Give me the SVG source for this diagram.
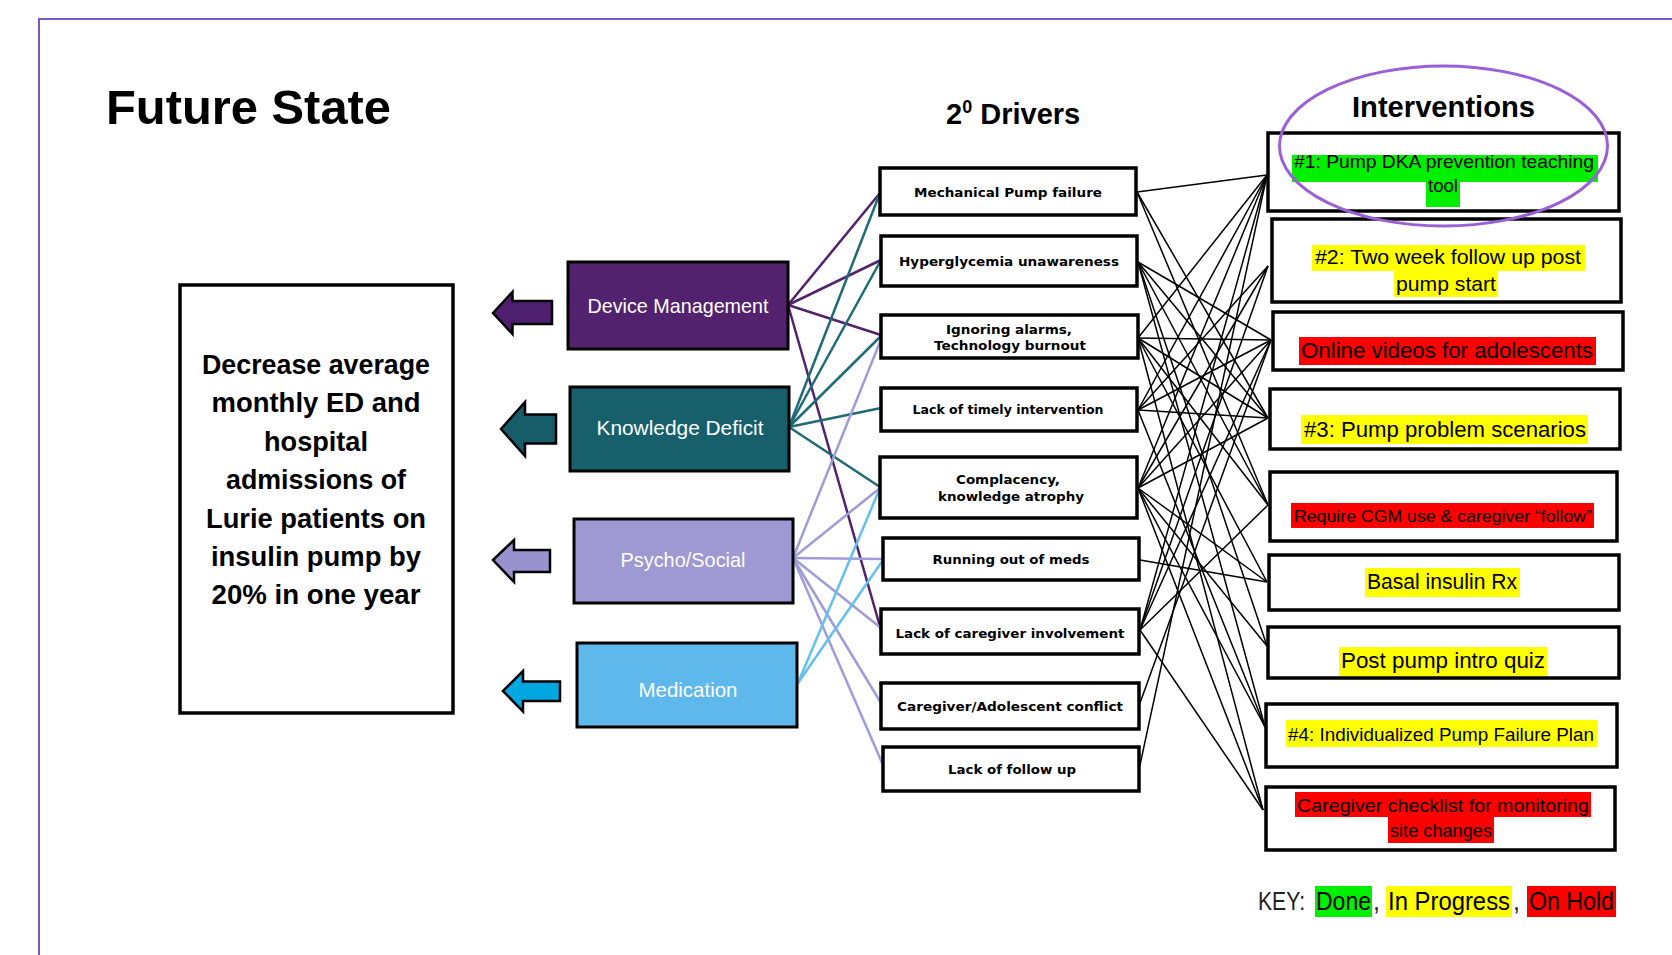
<svg xmlns="http://www.w3.org/2000/svg" width="1672" height="955" viewBox="0 0 1672 955">
<defs>
<style>
.frame{fill:none;stroke:#7e57c2;stroke-width:2}
.box{fill:#fff;stroke:#000;stroke-width:3.5}
.pbox{stroke:#000;stroke-width:3}
.arr{stroke:#000;stroke-width:2.5;stroke-linejoin:miter}
.title{font-family:"Liberation Sans",Arial,sans-serif;font-weight:bold;fill:#000}
.goal{font-family:"Liberation Sans",Arial,sans-serif;font-weight:bold;font-size:28px;fill:#000;text-anchor:middle}
.ptxt{font-family:"Liberation Sans",Arial,sans-serif;font-size:21px;fill:#fff;text-anchor:middle}
.stxt{font-family:"DejaVu Sans","Liberation Sans",sans-serif;font-weight:bold;font-size:13px;fill:#000;text-anchor:middle}
.itxt{font-family:"Liberation Sans",Arial,sans-serif;fill:#000;text-anchor:middle}
.blk line{stroke:#000;stroke-width:1.5}
.cp{stroke:#52226e;stroke-width:2.5}
.ct{stroke:#1f6b76;stroke-width:2.5}
.cl{stroke:#a09bdb;stroke-width:2.5}
.cb{stroke:#63c0ef;stroke-width:2.5}
.hg{fill:#00f000}
.hy{fill:#ffff00}
.hr{fill:#ff0000}
</style>
</defs>
<rect x="0" y="0" width="1672" height="955" fill="#fff"/>
<rect class="frame" x="39" y="19" width="1700" height="1000"/>

<text class="title" x="106" y="124" font-size="49" textLength="285" lengthAdjust="spacingAndGlyphs">Future State</text>
<text class="title" x="946" y="124" font-size="29">2<tspan font-size="18" dy="-11">0</tspan><tspan dy="11"> Drivers</tspan></text>
<text class="title" x="1352" y="117" font-size="29" textLength="183" lengthAdjust="spacingAndGlyphs">Interventions</text>

<g id="connectors">
  <g id="colored">
    <line class="cp" x1="788" y1="305" x2="880" y2="193"/>
    <line class="cp" x1="788" y1="305" x2="881" y2="260"/>
    <line class="cp" x1="788" y1="305" x2="881" y2="335"/>
    <line class="cp" x1="788" y1="305" x2="881" y2="630"/>
    <line class="ct" x1="789" y1="427" x2="880" y2="193"/>
    <line class="ct" x1="789" y1="427" x2="881" y2="260"/>
    <line class="ct" x1="789" y1="427" x2="881" y2="336"/>
    <line class="ct" x1="789" y1="427" x2="881" y2="408"/>
    <line class="ct" x1="789" y1="427" x2="880" y2="487"/>
    <line class="cl" x1="793" y1="558" x2="882" y2="337"/>
    <line class="cl" x1="793" y1="558" x2="880" y2="488"/>
    <line class="cl" x1="793" y1="558" x2="883" y2="559"/>
    <line class="cl" x1="793" y1="558" x2="881" y2="628"/>
    <line class="cl" x1="793" y1="558" x2="881" y2="703"/>
    <line class="cl" x1="793" y1="558" x2="883" y2="765"/>
    <line class="cb" x1="798" y1="683" x2="880" y2="488"/>
    <line class="cb" x1="798" y1="683" x2="883" y2="560"/>
  </g>
  <g id="black" class="blk">
    <line x1="1137" y1="192" x2="1267" y2="175"/>
    <line x1="1137" y1="192" x2="1268" y2="418"/>
    <line x1="1137" y1="192" x2="1268" y2="505"/>
    <line x1="1138" y1="262" x2="1271" y2="340"/>
    <line x1="1138" y1="262" x2="1268" y2="418"/>
    <line x1="1138" y1="262" x2="1268" y2="505"/>
    <line x1="1138" y1="262" x2="1267" y2="646"/>
    <line x1="1138" y1="262" x2="1265" y2="727"/>
    <line x1="1138" y1="338" x2="1271" y2="340"/>
    <line x1="1138" y1="338" x2="1268" y2="418"/>
    <line x1="1138" y1="338" x2="1268" y2="505"/>
    <line x1="1138" y1="338" x2="1267" y2="582"/>
    <line x1="1138" y1="338" x2="1263" y2="810"/>
    <line x1="1138" y1="338" x2="1267" y2="175"/>
    <line x1="1138" y1="410" x2="1267" y2="175"/>
    <line x1="1138" y1="410" x2="1268" y2="266"/>
    <line x1="1138" y1="410" x2="1271" y2="340"/>
    <line x1="1138" y1="410" x2="1268" y2="418"/>
    <line x1="1138" y1="410" x2="1265" y2="727"/>
    <line x1="1138" y1="488" x2="1267" y2="175"/>
    <line x1="1138" y1="488" x2="1268" y2="266"/>
    <line x1="1138" y1="488" x2="1271" y2="340"/>
    <line x1="1138" y1="488" x2="1268" y2="418"/>
    <line x1="1138" y1="488" x2="1267" y2="582"/>
    <line x1="1138" y1="488" x2="1267" y2="646"/>
    <line x1="1138" y1="488" x2="1265" y2="727"/>
    <line x1="1138" y1="488" x2="1263" y2="810"/>
    <line x1="1140" y1="560" x2="1267" y2="582"/>
    <line x1="1140" y1="630" x2="1267" y2="175"/>
    <line x1="1140" y1="630" x2="1268" y2="266"/>
    <line x1="1140" y1="630" x2="1271" y2="340"/>
    <line x1="1140" y1="630" x2="1268" y2="505"/>
    <line x1="1140" y1="630" x2="1263" y2="810"/>
    <line x1="1140" y1="703" x2="1271" y2="340"/>
    <line x1="1140" y1="765" x2="1267" y2="175"/>
  </g>
</g>

<g id="goal">
  <rect class="box" x="180" y="285" width="273" height="428"/>
  <text class="goal" x="316" y="374" textLength="228" lengthAdjust="spacingAndGlyphs">Decrease average</text>
  <text class="goal" x="316" y="412" textLength="209" lengthAdjust="spacingAndGlyphs">monthly ED and</text>
  <text class="goal" x="316" y="451" textLength="104" lengthAdjust="spacingAndGlyphs">hospital</text>
  <text class="goal" x="316" y="489" textLength="180" lengthAdjust="spacingAndGlyphs">admissions of</text>
  <text class="goal" x="316" y="528" textLength="220" lengthAdjust="spacingAndGlyphs">Lurie patients on</text>
  <text class="goal" x="316" y="566" textLength="210" lengthAdjust="spacingAndGlyphs">insulin pump by</text>
  <text class="goal" x="316" y="604" textLength="209" lengthAdjust="spacingAndGlyphs">20% in one year</text>
</g>

<g id="arrow-device"><polygon class="arr" fill="#4e1f6f" points="493,313 512.5,292 512.5,301 552,301 552,324 512.5,324 512.5,334"/></g>
<g id="arrow-knowledge"><polygon class="arr" fill="#175c69" points="501,429 525,402 525,414.5 556,414.5 556,443.5 525,443.5 525,456"/></g>
<g id="arrow-psycho"><polygon class="arr" fill="#9a92cf" points="493,560 514,540 514,550 550,550 550,572 514,572 514,582"/></g>
<g id="arrow-medication"><polygon class="arr" fill="#00a7e1" points="503,691 523,671 523,681.5 560,681.5 560,701 523,701 523,711.5"/></g>

<g id="device-management">
  <rect class="pbox" x="568" y="262" width="220" height="87" fill="#52226e"/>
  <text class="ptxt" x="678" y="313" textLength="181" lengthAdjust="spacingAndGlyphs">Device Management</text>
</g>
<g id="knowledge-deficit">
  <rect class="pbox" x="570" y="387" width="219" height="84" fill="#175f6b"/>
  <text class="ptxt" x="680" y="435" textLength="167" lengthAdjust="spacingAndGlyphs">Knowledge Deficit</text>
</g>
<g id="psycho-social">
  <rect class="pbox" x="574" y="519" width="219" height="84" fill="#9e98d3"/>
  <text class="ptxt" x="683" y="567" textLength="125" lengthAdjust="spacingAndGlyphs">Psycho/Social</text>
</g>
<g id="medication">
  <rect class="pbox" x="577" y="643" width="220" height="84" fill="#5eb8ec"/>
  <text class="ptxt" x="688" y="697" textLength="99" lengthAdjust="spacingAndGlyphs">Medication</text>
</g>

<g id="d-mechanical"><rect class="box" x="880" y="168" width="256" height="47"/>
  <text class="stxt" x="1008" y="197" textLength="188" lengthAdjust="spacingAndGlyphs">Mechanical Pump failure</text></g>
<g id="d-hyperglycemia"><rect class="box" x="881" y="236" width="256" height="50"/>
  <text class="stxt" x="1009" y="266" textLength="220" lengthAdjust="spacingAndGlyphs">Hyperglycemia unawareness</text></g>
<g id="d-ignoring"><rect class="box" x="881" y="315" width="257" height="43"/>
  <text class="stxt" x="1009" y="334" textLength="126" lengthAdjust="spacingAndGlyphs">Ignoring alarms,</text>
  <text class="stxt" x="1010" y="350" textLength="152" lengthAdjust="spacingAndGlyphs">Technology burnout</text></g>
<g id="d-timely"><rect class="box" x="881" y="388" width="256" height="43"/>
  <text class="stxt" x="1008" y="414" textLength="191" lengthAdjust="spacingAndGlyphs">Lack of timely intervention</text></g>
<g id="d-complacency"><rect class="box" x="880" y="457" width="257" height="61"/>
  <text class="stxt" x="1008" y="484" textLength="104" lengthAdjust="spacingAndGlyphs">Complacency,</text>
  <text class="stxt" x="1011" y="501" textLength="146" lengthAdjust="spacingAndGlyphs">knowledge atrophy</text></g>
<g id="d-meds"><rect class="box" x="883" y="538" width="256" height="42"/>
  <text class="stxt" x="1011" y="564" textLength="157" lengthAdjust="spacingAndGlyphs">Running out of meds</text></g>
<g id="d-caregiver"><rect class="box" x="881" y="609" width="258" height="45"/>
  <text class="stxt" x="1010" y="638" textLength="229" lengthAdjust="spacingAndGlyphs">Lack of caregiver involvement</text></g>
<g id="d-conflict"><rect class="box" x="881" y="683" width="258" height="46"/>
  <text class="stxt" x="1010" y="711" textLength="226" lengthAdjust="spacingAndGlyphs">Caregiver/Adolescent conflict</text></g>
<g id="d-followup"><rect class="box" x="883" y="747" width="256" height="44"/>
  <text class="stxt" x="1012" y="774" textLength="128" lengthAdjust="spacingAndGlyphs">Lack of follow up</text></g>

<g id="i1"><rect class="box" x="1268" y="133" width="351" height="78"/>
  <rect class="hg" x="1292" y="155" width="306" height="27"/>
  <rect class="hg" x="1426" y="181" width="34" height="26"/>
  <text class="itxt" x="1444" y="168" font-size="19" textLength="300" lengthAdjust="spacingAndGlyphs">#1: Pump DKA prevention teaching</text>
  <text class="itxt" x="1443" y="192" font-size="19" textLength="30" lengthAdjust="spacingAndGlyphs">tool</text></g>
<g id="i2"><rect class="box" x="1272" y="219" width="349" height="83"/>
  <rect class="hy" x="1312" y="245" width="273" height="26"/>
  <rect class="hy" x="1394" y="270" width="104" height="27"/>
  <text class="itxt" x="1448" y="264" font-size="21" textLength="266" lengthAdjust="spacingAndGlyphs">#2: Two week follow up post</text>
  <text class="itxt" x="1446" y="291" font-size="21" textLength="100" lengthAdjust="spacingAndGlyphs">pump start</text></g>
<g id="i3"><rect class="box" x="1273" y="312" width="350" height="58"/>
  <rect class="hr" x="1299" y="337" width="297" height="28"/>
  <text class="itxt" x="1447" y="358" font-size="22" textLength="292" lengthAdjust="spacingAndGlyphs">Online videos for adolescents</text></g>
<g id="i4"><rect class="box" x="1270" y="389" width="350" height="60"/>
  <rect class="hy" x="1301" y="415" width="287" height="29"/>
  <text class="itxt" x="1445" y="437" font-size="22" textLength="282" lengthAdjust="spacingAndGlyphs">#3: Pump problem scenarios</text></g>
<g id="i5"><rect class="box" x="1270" y="472" width="347" height="69"/>
  <rect class="hr" x="1291" y="503" width="303" height="25"/>
  <text class="itxt" x="1443" y="522" font-size="17" textLength="298" lengthAdjust="spacingAndGlyphs">Require CGM use &amp; caregiver “follow”</text></g>
<g id="i6"><rect class="box" x="1269" y="555" width="350" height="55"/>
  <rect class="hy" x="1365" y="568" width="155" height="29"/>
  <text class="itxt" x="1442" y="589" font-size="22" textLength="150" lengthAdjust="spacingAndGlyphs">Basal insulin Rx</text></g>
<g id="i7"><rect class="box" x="1268" y="627" width="351" height="51"/>
  <rect class="hy" x="1339" y="647" width="208" height="29"/>
  <text class="itxt" x="1443" y="668" font-size="22" textLength="204" lengthAdjust="spacingAndGlyphs">Post pump intro quiz</text></g>
<g id="i8"><rect class="box" x="1266" y="704" width="351" height="63"/>
  <rect class="hy" x="1286" y="720" width="311" height="27"/>
  <text class="itxt" x="1441" y="741" font-size="18" textLength="306" lengthAdjust="spacingAndGlyphs">#4: Individualized Pump Failure Plan</text></g>
<g id="i9"><rect class="box" x="1266" y="787" width="349" height="63"/>
  <rect class="hr" x="1295" y="792" width="296" height="25"/>
  <rect class="hr" x="1388" y="817" width="106" height="26"/>
  <text class="itxt" x="1443" y="812" font-size="18" textLength="292" lengthAdjust="spacingAndGlyphs">Caregiver checklist for monitoring</text>
  <text class="itxt" x="1441" y="837" font-size="18" textLength="102" lengthAdjust="spacingAndGlyphs">site changes</text></g>

<ellipse cx="1443.5" cy="146" rx="164" ry="80" fill="none" stroke="#9b5fd6" stroke-width="3"/>

<g id="key">
  <rect class="hg" x="1315" y="886" width="57" height="31"/>
  <rect class="hy" x="1386" y="886" width="126" height="31"/>
  <rect class="hr" x="1527" y="886" width="89" height="31"/>
  <text font-family="Liberation Sans, Arial, sans-serif" font-size="25" fill="#222" y="910"><tspan x="1258" textLength="47" lengthAdjust="spacingAndGlyphs">KEY:</tspan><tspan x="1316" fill="#000" textLength="55" lengthAdjust="spacingAndGlyphs">Done</tspan><tspan x="1373">,</tspan><tspan x="1388" fill="#000" textLength="122" lengthAdjust="spacingAndGlyphs">In Progress</tspan><tspan x="1513">,</tspan><tspan x="1529" fill="#000" textLength="85" lengthAdjust="spacingAndGlyphs">On Hold</tspan></text>
</g>
</svg>
